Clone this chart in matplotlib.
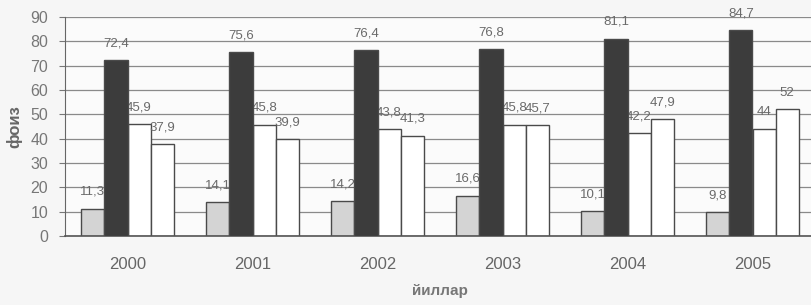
import matplotlib
matplotlib.use("Agg")
import matplotlib.pyplot as plt
import numpy as np

plt.rcParams['font.family'] = ['Liberation Sans', 'DejaVu Sans']

years = ['2000', '2001', '2002', '2003', '2004', '2005']
s1 = [11.3, 14.1, 14.2, 16.6, 10.1, 9.8]
s2 = [72.4, 75.6, 76.4, 76.8, 81.1, 84.7]
s3 = [45.9, 45.8, 43.8, 45.8, 42.2, 44]
s4 = [37.9, 39.9, 41.3, 45.7, 47.9, 52]
yticks = [0, 10, 20, 30, 40, 50, 60, 70, 80, 90]

def fmt(v):
    s = ('%g' % v)
    return s.replace('.', ',')

fig = plt.figure(figsize=(8.11, 3.05), dpi=100, facecolor='#f6f6f6')
ax = fig.add_axes([65/811, (305-236)/305, (815-65)/811, (236-17)/305])
ax.set_facecolor('#fbfbfb')

x = np.arange(len(years))
w = 0.185
series = [(s1, '#d4d4d4', 2), (s2, '#3c3c3c', 4), (s3, '#ffffff', 2), (s4, '#ffffff', 2)]
for i, (vals, col, z) in enumerate(series):
    pos = x + (i - 1.5) * w
    ax.bar(pos, vals, width=w, color=col, edgecolor='#4a4a4a', linewidth=1.0, zorder=z)
    for p, v in zip(pos, vals):
        ax.annotate(fmt(v), (p, v), xytext=(0, 12), textcoords='offset points',
                    ha='center', va='center', fontsize=9.5, color='#6a6a6a',
                    zorder=3)

ax.set_xlim(-0.5, len(years) - 0.5)
ax.set_ylim(0, 90)
ax.set_yticks(yticks)
ax.set_xticks(x)
ax.set_xticklabels(years)
ax.yaxis.grid(True, color='#8a8a8a', linewidth=0.9, zorder=0)
ax.set_axisbelow(True)
for s in ['top', 'right']:
    ax.spines[s].set_visible(False)
ax.spines['left'].set_color('#666666')
ax.spines['bottom'].set_color('#555555')
ax.spines['bottom'].set_linewidth(1.2)
ax.tick_params(axis='y', length=4, color='#777777', labelsize=11.5, labelcolor='#777777', pad=8)
ax.tick_params(axis='x', length=0, labelsize=12, labelcolor='#666666', pad=15)
ax.set_ylabel('фоиз', fontsize=12, color='#666666', fontweight='bold', labelpad=6)
ax.set_xlabel('йиллар', fontsize=11, color='#777777', fontweight='bold', labelpad=9)

fig.savefig('out.png', dpi=100, facecolor=fig.get_facecolor())
